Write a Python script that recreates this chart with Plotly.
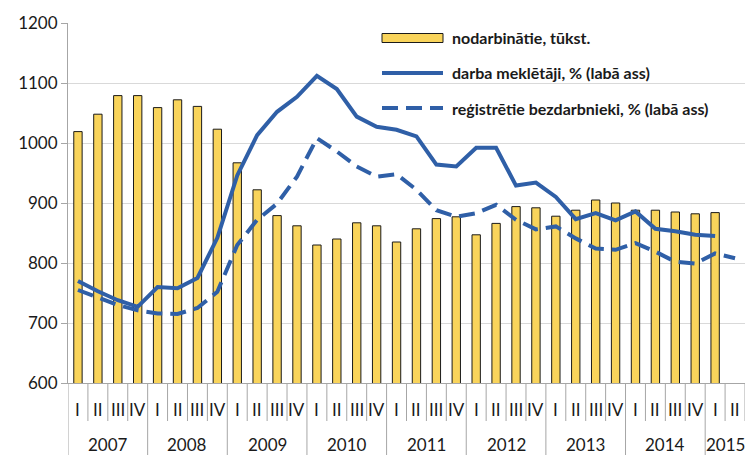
import plotly.graph_objects as go

years = ["2007"]*4 + ["2008"]*4 + ["2009"]*4 + ["2010"]*4 + ["2011"]*4 + ["2012"]*4 + ["2013"]*4 + ["2014"]*4 + ["2015"]*2
quarters = ["I", "II", "III", "IV"]*8 + ["I", "II"]
categories = [f"{y} {q}" for y, q in zip(years, quarters)]

# nodarbinātie, tūkst. (left axis)
employed = [1019, 1048, 1079, 1079, 1059, 1072, 1061, 1023,
            967, 922, 879, 862, 830, 840, 867, 862,
            835, 857, 874, 877, 847, 866, 894, 892,
            878, 888, 905, 900, 888, 888, 885, 882,
            884, None]
# darba meklētāji (right axis, drawn on same visual scale)
jobseekers = [770, 753, 738, 727, 760, 758, 775, 842,
              946, 1013, 1052, 1077, 1112, 1090, 1044, 1027,
              1022, 1011, 964, 961, 992, 992, 929, 934,
              910, 873, 883, 871, 886, 857, 853, 847,
              845, None]
# reģistrētie bezdarbnieki (right axis)
registered = [755, 742, 730, 721, 716, 715, 725, 752,
              830, 872, 899, 944, 1008, 986, 961, 944,
              948, 922, 888, 877, 883, 897, 872, 856,
              861, 841, 824, 822, 833, 819, 802, 799,
              816, 808]

legend_names = ["nodarbinātie, tūkst.",
                "darba meklētāji, % (labā ass)",
                "reģistrētie bezdarbnieki, % (labā ass)"]

BAR = "#F9D45B"
BLUE = "#2F5FA7"
GRAY = "#A6A6A6"
TXT = "#1a1a1a"
FONT = "Lato"

fig = go.Figure()
fig.add_trace(go.Bar(x=categories, y=employed, name=legend_names[0],
                     marker=dict(color=BAR, line=dict(color=TXT, width=1)),
                     showlegend=False))
fig.add_trace(go.Scatter(x=categories, y=jobseekers, name=legend_names[1], yaxis="y2",
                         mode="lines", line=dict(color=BLUE, width=4),
                         showlegend=False, connectgaps=False))
fig.add_trace(go.Scatter(x=categories, y=registered, name=legend_names[2], yaxis="y2",
                         mode="lines", line=dict(color=BLUE, width=4, dash="16px,8px"),
                         showlegend=False))

W, H = 745, 455
L, R, T, B = 68, 0, 23, 72
pw, ph = W - L - R, H - T - B

def px_x(p):
    return (p - L) / pw

def px_y(p):
    return (H - B - p) / ph

shapes = []
annotations = []
n = len(categories)
for i in range(n + 1):
    is_year = (i == 0) or (i < n and quarters[i] == "I")
    y1 = px_y(H) if is_year else px_y(421)
    shapes.append(dict(type="line", xref="x", yref="paper", x0=i - 0.5, x1=i - 0.5,
                       y0=0, y1=y1, line=dict(color=GRAY, width=1), layer="below"))
for i, q in enumerate(quarters):
    annotations.append(dict(x=categories[i], y=px_y(409), xref="x", yref="paper",
                            text=q, showarrow=False, yanchor="middle",
                            font=dict(family=FONT, size=17, color=TXT)))
# year labels
groups = {}
for i, y in enumerate(years):
    groups.setdefault(y, []).append(i)
for y, idx in groups.items():
    annotations.append(dict(x=(idx[0] + idx[-1]) / 2, y=px_y(444.5), xref="x", yref="paper",
                            text=y, showarrow=False, yanchor="middle", borderpad=0,
                            font=dict(family=FONT, size=17, color=TXT)))

# custom legend
lx0, lx1, tx = px_x(382), px_x(443), px_x(450)
ly = [px_y(38), px_y(73), px_y(108)]
shapes.append(dict(type="rect", xref="paper", yref="paper", x0=lx0, x1=lx1,
                   y0=ly[0] - 4.5 / ph, y1=ly[0] + 4.5 / ph,
                   fillcolor=BAR, line=dict(color=TXT, width=1)))
shapes.append(dict(type="line", xref="paper", yref="paper", x0=lx0, x1=lx1,
                   y0=ly[1], y1=ly[1], line=dict(color=BLUE, width=4)))
shapes.append(dict(type="line", xref="paper", yref="paper", x0=lx0, x1=lx1,
                   y0=ly[2], y1=ly[2], line=dict(color=BLUE, width=4, dash="16px,8px")))
for name, yy in zip(legend_names, ly):
    annotations.append(dict(x=tx, y=yy, xref="paper", yref="paper", text=f"<b>{name}</b>",
                            showarrow=False, xanchor="left", yanchor="middle",
                            font=dict(family=FONT, size=16, color=TXT)))

fig.update_layout(
    width=W, height=H,
    margin=dict(l=L, r=R, t=T, b=B, pad=0),
    paper_bgcolor="white", plot_bgcolor="white",
    bargap=0.58,
    showlegend=False,
    font=dict(family=FONT, size=17, color=TXT),
    xaxis=dict(type="category", categoryorder="array", categoryarray=categories,
               range=[-0.5, n - 0.5], showticklabels=False, ticks="",
               showgrid=False, showline=True, linecolor=GRAY, linewidth=1, zeroline=False),
    yaxis=dict(range=[600, 1200], dtick=100, showgrid=True, gridcolor="#D9D9D9", gridwidth=1,
               showline=True, linecolor=GRAY, linewidth=1, ticks="outside", ticklen=6,
               tickcolor=GRAY, zeroline=False, tickfont=dict(family=FONT, size=17, color=TXT)),
    yaxis2=dict(range=[600, 1200], overlaying="y", side="right", visible=False),
    shapes=shapes,
    annotations=annotations,
)

fig.write_html("out.html", config={"displayModeBar": False},
               post_script="document.body.style.margin='0';document.body.style.overflow='hidden';")
